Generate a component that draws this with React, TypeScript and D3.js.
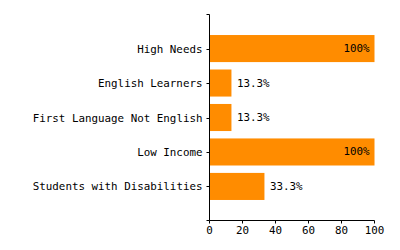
import React from "react";
import * as d3 from "d3";

const categories = [
  "High Needs",
  "English Learners",
  "First Language Not English",
  "Low Income",
  "Students with Disabilities",
];
const values = [100, 13.3, 13.3, 100, 33.3];
const labels = ["100%", "13.3%", "13.3%", "100%", "33.3%"];
const xTicks = [0, 20, 40, 60, 80, 100];

const W = 400;
const H = 250;
const FONT = "'DejaVu Sans Mono', monospace";

export default function App() {
  const x = d3.scaleLinear().domain([0, 100]).range([209.5, 374.5]);
  const y = d3
    .scaleBand<string>()
    .domain(categories)
    .range([14, 221])
    .paddingInner(0.215)
    .paddingOuter(0.61);
  const x0 = x(0);
  const yTop = 14;
  const yBot = 220.5;
  const tick = 3;

  return (
    <svg
      width={W}
      height={H}
      style={{ position: "absolute", left: 0, top: 0, background: "#fff" }}
      fontFamily={FONT}
      fontSize={10.85}
    >
      {categories.map((c, i) => {
        const v = values[i];
        const inside = v > 50;
        const by = y(c)!;
        return (
          <g key={c}>
            <rect
              x={x0}
              y={by}
              width={x(v) - x0}
              height={y.bandwidth()}
              fill="#ff8c00"
            />
            <text
              x={inside ? x(v) - 5 : x(v) + 5.5}
              y={by + y.bandwidth() / 2}
              dy="0.32em"
              textAnchor={inside ? "end" : "start"}
              fill="#000"
            >
              {labels[i]}
            </text>
          </g>
        );
      })}
      {/* y axis */}
      <path
        d={`M${x0 - tick},${yTop + 0.5}H${x0}V${yBot}H${x0 - tick}`}
        fill="none"
        stroke="#000"
        strokeWidth={1}
      />
      {categories.map((c) => {
        const cy = Math.round(y(c)! + y.bandwidth() / 2) + 0.5;
        return (
          <g key={"yt" + c}>
            <line x1={x0 - tick} x2={x0} y1={cy} y2={cy} stroke="#000" />
            <text x={x0 - tick - 4} y={cy} dy="0.32em" textAnchor="end" fill="#000">
              {c}
            </text>
          </g>
        );
      })}
      {/* x axis */}
      <path
        d={`M${x0},${yBot}H${x(100)}`}
        fill="none"
        stroke="#000"
      />
      {xTicks.map((t) => (
        <g key={"xt" + t}>
          <line x1={x(t)} x2={x(t)} y1={yBot} y2={yBot + tick} stroke="#000" />
          <text x={x(t)} y={yBot + tick + 3} dy="0.71em" textAnchor="middle" fill="#000">
            {t}
          </text>
        </g>
      ))}
    </svg>
  );
}
